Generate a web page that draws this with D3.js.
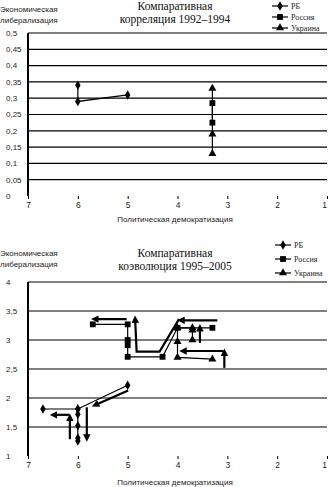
<!DOCTYPE html>
<html><head><meta charset="utf-8">
<script src="https://cdn.jsdelivr.net/npm/d3@7"></script>
<style>body{margin:0;background:#fff}svg{display:block}</style>
</head><body><svg id="c" width="328" height="487"></svg>
<script>
// ---------- data ----------
const xTicks = [7, 6, 5, 4, 3, 2, 1];
const yTicksTop = [0, 0.05, 0.1, 0.15, 0.2, 0.25, 0.3, 0.35, 0.4, 0.45, 0.5];
const yTicksBottom = [1, 1.5, 2, 2.5, 3, 3.5, 4];
const seriesNames = ["РБ", "Россия", "Украина"];
const titleTop = ["Компаративная", "корреляция 1992–1994"];
const titleBottom = ["Компаративная", "коэволюция 1995–2005"];
const yTitle = ["Экономическая", "либерализация"];
const xTitle = "Политическая демократизация";

// chart 1 (1992–1994)
const rbTop = [[6.0, 0.34], [6.0, 0.29], [5.0, 0.31]];
const ruTop = [[3.3, 0.285], [3.3, 0.225]];
const uaTop = [[3.3, 0.33], [3.3, 0.19], [3.3, 0.13]];

// chart 2 (1995–2005)
const rbBottom = [[5.0, 2.22], [6.0, 1.81], [6.7, 1.81], [6.0, 1.81], [6.0, 1.72], [6.0, 1.52], [6.0, 1.31], [6.0, 1.26]];
const ruBottom = [[5.7, 3.27], [5.0, 3.27], [5.0, 3.0], [5.0, 2.91], [5.0, 2.71], [4.3, 2.71], [4.0, 3.21], [3.3, 3.21]];
const uaBottom = [[3.3, 2.67], [4.0, 2.70], [4.0, 2.97], [4.0, 3.21], [3.7, 3.21], [3.7, 3.17], [3.7, 3.0]];

// direction arrows (chart 2)
const arrowsBottom = [
  [[5.02, 3.36], [5.66, 3.36]],
  [[3.2, 3.34], [3.93, 3.34]],
  [[3.97, 3.36], [4.36, 2.80], [4.82, 2.80], [4.85, 3.36]],
  [[3.55, 2.95], [3.55, 3.21]],
  [[3.08, 2.81], [3.89, 2.81]],
  [[3.06, 2.52], [3.06, 2.79]],
  [[4.99, 2.13], [5.65, 1.88]],
  [[5.82, 1.84], [5.82, 1.31]],
  [[6.16, 1.29], [6.16, 1.67]],
  [[6.17, 1.71], [6.49, 1.71]]
];

// ---------- drawing ----------
const svg = d3.select("#c");
const defs = svg.append("defs");
defs.append("marker").attr("id", "ah").attr("viewBox", "0 0 10 10")
  .attr("refX", 5).attr("refY", 5).attr("markerWidth", 3.4).attr("markerHeight", 3.4)
  .attr("orient", "auto").attr("markerUnits", "strokeWidth")
  .append("path").attr("d", "M0,0 L10,5 L0,10 z").attr("fill", "#000");

const sans = "Liberation Sans, Arial, sans-serif";
const serif = "Liberation Serif, Times New Roman, serif";
const comma = v => String(v).replace(".", ",");
const symbols = [d3.symbolDiamond, d3.symbolSquare, d3.symbolTriangle];
const symSizes = [26, 34, 28];

function chart(cfg) {
  const x = d3.scaleLinear().domain([7, 1]).range([28, 327]);
  const y = d3.scaleLinear().domain(cfg.yDomain).range(cfg.yRange);
  const g = svg.append("g");

  // gridlines
  g.selectAll(".grid").data(cfg.yTicks.filter(t => t !== cfg.yDomain[0])).join("line")
    .attr("x1", 28).attr("x2", 327).attr("y1", d => y(d)).attr("y2", d => y(d))
    .attr("stroke", "#000").attr("stroke-width", 1.2);

  // y axis line
  g.append("line").attr("x1", 28).attr("x2", 28)
    .attr("y1", y(cfg.yDomain[1])).attr("y2", y(cfg.yDomain[0]))
    .attr("stroke", "#000").attr("stroke-width", 2);

  // y tick labels
  g.selectAll(".yl").data(cfg.yTicks).join("text")
    .attr("x", 6).attr("y", d => y(d)).attr("dy", "0.35em")
    .attr("font-family", sans).attr("font-size", 8).attr("fill", "#222")
    .text(d => comma(d));

  // x axis ticks
  const xa = d3.axisBottom(x).tickValues(xTicks).tickSize(3).tickFormat(d => d);
  const ax = g.append("g").attr("transform", `translate(0,${y(cfg.yDomain[0])})`).call(xa);
  ax.select(".domain").remove();
  ax.selectAll(".tick line").attr("stroke", "#000");
  ax.selectAll(".tick text").attr("font-family", sans).attr("font-size", 8.5)
    .attr("fill", "#222").attr("dy", "0.75em")
    .attr("dx", d => d === 1 ? -3 : 0);

  // axis titles
  g.append("text").attr("x", 175).attr("y", cfg.xTitleY).attr("text-anchor", "middle")
    .attr("font-family", sans).attr("font-size", 8).attr("fill", "#222").text(xTitle);
  yTitle.forEach((t, i) => g.append("text").attr("x", 0).attr("y", cfg.yTitleY + i * 11)
    .attr("font-family", sans).attr("font-size", 8).attr("fill", "#222").text(t));

  // chart title
  cfg.title.forEach((t, i) => g.append("text").attr("x", 175).attr("y", cfg.titleY + i * 12.5)
    .attr("text-anchor", "middle").attr("font-family", serif).attr("font-size", 11.5)
    .attr("fill", "#111").text(t));

  // arrows
  const line = d3.line().x(d => x(d[0])).y(d => y(d[1]));
  g.selectAll(".arr").data(cfg.arrows || []).join("path")
    .attr("d", line).attr("fill", "none").attr("stroke", "#000").attr("stroke-width", 2.2)
    .attr("stroke-linejoin", "miter").attr("marker-end", "url(#ah)");

  // series
  cfg.series.forEach((s, i) => {
    g.append("path").datum(s).attr("d", line).attr("fill", "none")
      .attr("stroke", "#000").attr("stroke-width", 1.2);
    g.selectAll(".m" + i).data(s).join("path")
      .attr("transform", d => `translate(${x(d[0])},${y(d[1])})`)
      .attr("d", d3.symbol().type(symbols[i]).size(symSizes[i])).attr("fill", "#000");
  });

  // legend
  seriesNames.forEach((n, i) => {
    const ly = cfg.legendY[i];
    g.append("line").attr("x1", cfg.legendX - 8).attr("x2", cfg.legendX + 8)
      .attr("y1", ly).attr("y2", ly).attr("stroke", "#000").attr("stroke-width", 1.2);
    g.append("path").attr("transform", `translate(${cfg.legendX},${ly})`)
      .attr("d", d3.symbol().type(symbols[i]).size(symSizes[i])).attr("fill", "#000");
    g.append("text").attr("x", cfg.legendX + 11).attr("y", ly).attr("dy", "0.35em")
      .attr("font-family", serif).attr("font-size", 8).attr("fill", "#222").text(n);
  });
}

chart({
  yDomain: [0, 0.5], yRange: [196, 33], yTicks: yTicksTop,
  series: [rbTop, ruTop, uaTop], title: titleTop, titleY: 10,
  yTitleY: 12, xTitleY: 222, legendX: 280, legendY: [6, 17, 28]
});
chart({
  yDomain: [1, 4], yRange: [456, 282], yTicks: yTicksBottom,
  series: [rbBottom, ruBottom, uaBottom], title: titleBottom, titleY: 257,
  yTitleY: 256, xTitleY: 485, legendX: 283, legendY: [245, 259, 273],
  arrows: arrowsBottom
});
</script></body></html>
